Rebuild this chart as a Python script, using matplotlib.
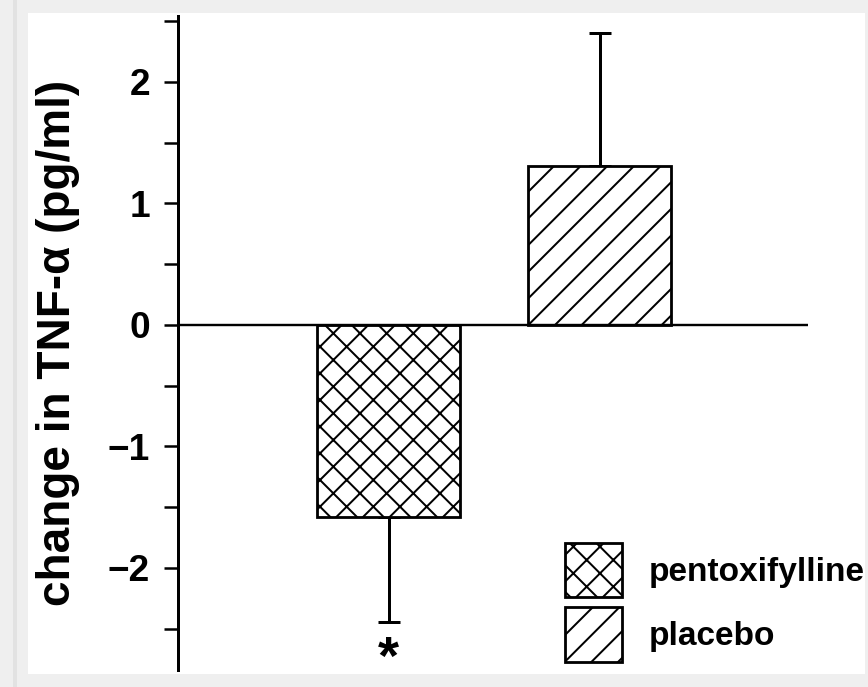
import matplotlib
matplotlib.use("Agg")
import matplotlib.pyplot as plt
from matplotlib.patches import Rectangle
from matplotlib.ticker import MultipleLocator

# data
groups = ["pentoxifylline", "placebo"]
changes = [-1.58, 1.31]
err_low = [0.864, 0.0]
err_high = [0.0, 1.094]
hatches = ["xx", "//"]
signif = ["*", ""]
y_ticks = [-2, -1, 0, 1, 2]

DPI = 160          # hatch spacing scales with dpi
W, H = 868, 687
P = 72 / DPI       # pixels -> points

plt.rcParams["font.family"] = ["Liberation Sans", "DejaVu Sans"]
plt.rcParams["font.weight"] = "bold"
plt.rcParams["hatch.linewidth"] = 2 * P
plt.rcParams["hatch.color"] = "black"

fig = plt.figure(figsize=(W / DPI, H / DPI), dpi=DPI, facecolor="#efefef")
# white panel of the screenshot
fig.patches.append(Rectangle((28 / W, 1 - 674 / H), (865 - 28) / W, (674 - 13) / H,
                             transform=fig.transFigure, facecolor="white",
                             edgecolor="none", zorder=-2))
fig.patches.append(Rectangle((13 / W, 0), 4 / W, 1, transform=fig.transFigure,
                             facecolor="#e2e2e2", edgecolor="none", zorder=-2))

ax = fig.add_axes([178 / W, 1 - 670 / H, (808 - 178) / W, (670 - 16) / H])
ax.set_facecolor("none")
ax.set_zorder(1)

pos = list(range(len(groups)))
for i in pos:
    ax.bar(pos[i], changes[i], width=0.678, facecolor="white", edgecolor="black",
           linewidth=2.8 * P, hatch=hatches[i], label=groups[i], zorder=2)
ax.errorbar(pos, changes, yerr=[err_low, err_high], fmt="none", ecolor="black",
            elinewidth=3 * P, capsize=11 * P, capthick=3 * P, zorder=1)
for i in pos:
    if signif[i]:
        ax.text(pos[i], changes[i] - err_low[i] - 0.11, signif[i], ha="center",
                va="top", fontsize=54 * P, fontweight="bold")

ax.axhline(0, color="black", linewidth=2.4 * P, zorder=3)

ax.set_xlim(-0.9976, 1.988)
ax.set_ylim(-2.84, 2.543)
ax.set_yticks(y_ticks)
ax.yaxis.set_minor_locator(MultipleLocator(0.5))
ax.tick_params(axis="y", which="both", direction="out", length=14 * P,
               width=2.5 * P, labelsize=37 * P, pad=14 * P)
ax.set_xticks([])
for s in ["top", "right", "bottom"]:
    ax.spines[s].set_visible(False)
ax.spines["left"].set_linewidth(3 * P)
for lab in ax.get_yticklabels():
    lab.set_fontweight("bold")

ax.set_ylabel("change in TNF-\u03b1 (pg/ml)", fontsize=46 * P, fontweight="bold",
              labelpad=28 * P)

leg = ax.legend(loc="upper left", bbox_to_anchor=(565 / W, 1 - 543 / H),
                bbox_transform=fig.transFigure, frameon=False, fontsize=33.5 * P,
                handlelength=1.7, handleheight=2.12, labelspacing=0.3,
                handletextpad=0.8, borderpad=0, borderaxespad=0)
for t in leg.get_texts():
    t.set_fontweight("bold")

fig.savefig("out.png", dpi=DPI, facecolor=fig.get_facecolor())
